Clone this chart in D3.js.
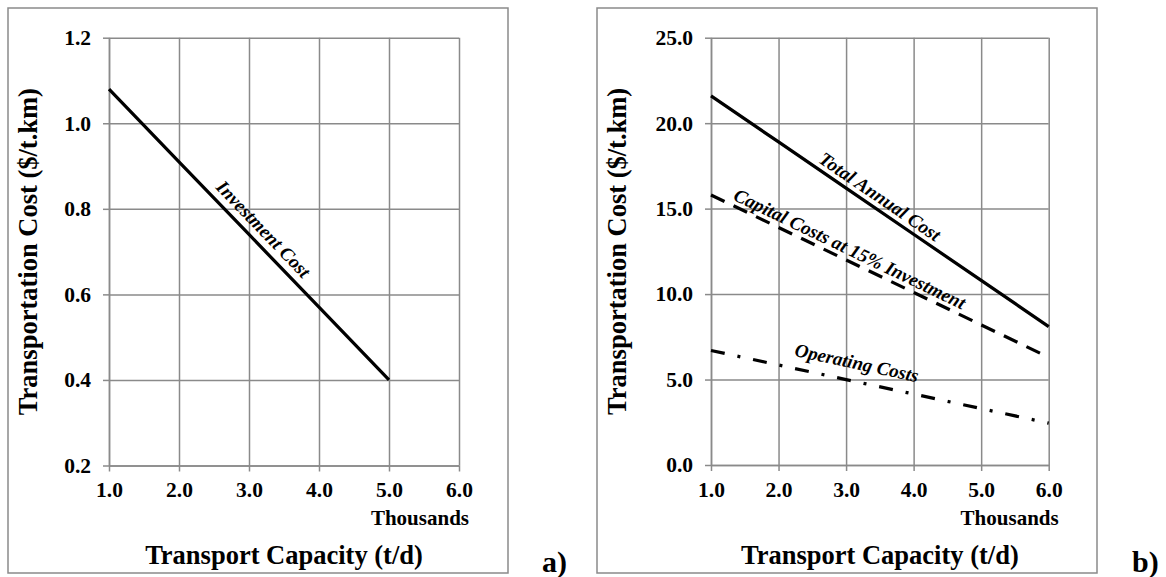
<!DOCTYPE html>
<html>
<head>
<meta charset="utf-8">
<script src="https://cdn.jsdelivr.net/npm/d3@7"></script>
<style>
  body { margin: 0; background: #fff; }
  svg { display: block; }
  text { font-family: "Liberation Serif", "Times New Roman", Times, serif; font-weight: bold; fill: #000; }
</style>
</head>
<body>
<svg id="chart" width="1166" height="577"></svg>
<script>
// Capacity in thousands of t/d
const capacityA = [1, 2, 3, 4, 5];
const investmentCost = [1.08, 0.91, 0.74, 0.57, 0.40];

const capacityB = [1, 2, 3, 4, 5, 6];
const totalAnnualCost = [21.6, 18.9, 16.2, 13.5, 10.8, 8.1];
const capitalCost = [15.8, 13.9, 12.0, 10.1, 8.2, 6.3];
const operatingCost = [6.7, 5.85, 5.0, 4.15, 3.3, 2.45];

const xTicks = [1, 2, 3, 4, 5, 6];
const yTicksA = [0.2, 0.4, 0.6, 0.8, 1.0, 1.2];
const yTicksB = [0, 5, 10, 15, 20, 25];

const yTitle = "Transportation Cost ($/t.km)";
const xTitle = "Transport Capacity (t/d)";
const unitNote = "Thousands";

const GRID = "#8a8a8a";
const fmt = d3.format(".1f");
const svg = d3.select("#chart");

const panels = [
  {
    frame: [8, 8, 508, 573],
    plot: { left: 109, right: 459, top: 37.7, bottom: 465.5 },
    yDomain: [0.2, 1.2], yTicks: yTicksA,
    tag: "a)", tagX: 542,
    series: [
      { xs: capacityA, ys: investmentCost, dash: null,
        label: "Investment Cost", at: 3.06, off: 14 }
    ]
  },
  {
    frame: [597, 8, 1097, 573],
    plot: { left: 711, right: 1048.7, top: 37.7, bottom: 465 },
    yDomain: [0, 25], yTicks: yTicksB,
    tag: "b)", tagX: 1132,
    series: [
      { xs: capacityB, ys: totalAnnualCost, dash: null,
        label: "Total Annual Cost", at: 3.40, off: 12 },
      { xs: capacityB, ys: capitalCost, dash: "15,10",
        label: "Capital Costs at 15% Investment", at: 2.98, off: 11.5 },
      { xs: capacityB, ys: operatingCost, dash: "14,13,3,13",
        label: "Operating Costs", at: 3.10, off: 18.5 }
    ]
  }
];

panels.forEach(p => {
  const g = svg.append("g");
  const P = p.plot;
  const h = P.bottom - P.top, w = P.right - P.left;

  // outer frame of the panel
  g.append("rect")
    .attr("x", p.frame[0]).attr("y", p.frame[1])
    .attr("width", p.frame[2] - p.frame[0]).attr("height", p.frame[3] - p.frame[1])
    .attr("fill", "none").attr("stroke", GRID).attr("stroke-width", 1.5);

  const x = d3.scaleLinear().domain([1, 6]).range([P.left, P.right]);
  const y = d3.scaleLinear().domain(p.yDomain).range([P.bottom, P.top]);

  // grid lines
  g.append("g").attr("transform", `translate(0,${P.bottom})`)
    .call(d3.axisBottom(x).tickValues(xTicks).tickSize(-h).tickFormat(""))
    .call(s => s.select(".domain").remove());
  g.append("g").attr("transform", `translate(${P.left},0)`)
    .call(d3.axisLeft(y).tickValues(p.yTicks).tickSize(-w).tickFormat(""))
    .call(s => s.select(".domain").remove());

  // axes with outward tick marks and labels
  const ax = g.append("g").attr("transform", `translate(0,${P.bottom})`)
    .call(d3.axisBottom(x).tickValues(xTicks).tickSizeInner(6).tickSizeOuter(0)
      .tickPadding(10.5).tickFormat(fmt));
  const ay = g.append("g").attr("transform", `translate(${P.left},0)`)
    .call(d3.axisLeft(y).tickValues(p.yTicks).tickSizeInner(6).tickSizeOuter(0)
      .tickPadding(12).tickFormat(fmt));

  g.selectAll(".tick line").attr("stroke", GRID).attr("stroke-width", 1.5);
  g.selectAll(".domain").attr("stroke", GRID).attr("stroke-width", 1.5);
  [ax, ay].forEach(a => a.attr("font-family", null).attr("font-size", null)
    .selectAll("text").style("font-size", "21.5px"));

  // axis titles
  g.append("text")
    .attr("transform", `translate(${p.frame[0] + 29},${(P.top + P.bottom) / 2}) rotate(-90)`)
    .attr("text-anchor", "middle")
    .style("font-size", "26.5px")
    .text(yTitle);

  g.append("text")
    .attr("x", (P.left + P.right) / 2).attr("y", 564)
    .attr("text-anchor", "middle")
    .style("font-size", "26.5px")
    .text(xTitle);

  g.append("text")
    .attr("x", P.right + 10).attr("y", 525)
    .attr("text-anchor", "end")
    .style("font-size", "21px")
    .text(unitNote);

  svg.append("text")
    .attr("x", p.tagX).attr("y", 572)
    .style("font-size", "30px")
    .text(p.tag);

  // series lines and their inline labels
  const line = d3.line().x(d => x(d[0])).y(d => y(d[1]));
  p.series.forEach(s => {
    const pts = s.xs.map((v, i) => [v, s.ys[i]]);
    g.append("path")
      .attr("d", line(pts))
      .attr("fill", "none")
      .attr("stroke", "#000")
      .attr("stroke-width", 3.25)
      .attr("stroke-dasharray", s.dash);

    const first = pts[0], last = pts[pts.length - 1];
    const ang = Math.atan2(y(last[1]) - y(first[1]), x(last[0]) - x(first[0]));
    const interp = d3.scaleLinear().domain(s.xs).range(s.ys);
    const px = x(s.at), py = y(interp(s.at));
    const cx = px + Math.sin(ang) * s.off;
    const cy = py - Math.cos(ang) * s.off;
    g.append("text")
      .attr("transform", `translate(${cx},${cy}) rotate(${ang * 180 / Math.PI})`)
      .attr("text-anchor", "middle")
      .attr("dy", "0.33em")
      .style("font-size", "19px")
      .style("font-style", "italic")
      .text(s.label);
  });
});
</script>
</body>
</html>
